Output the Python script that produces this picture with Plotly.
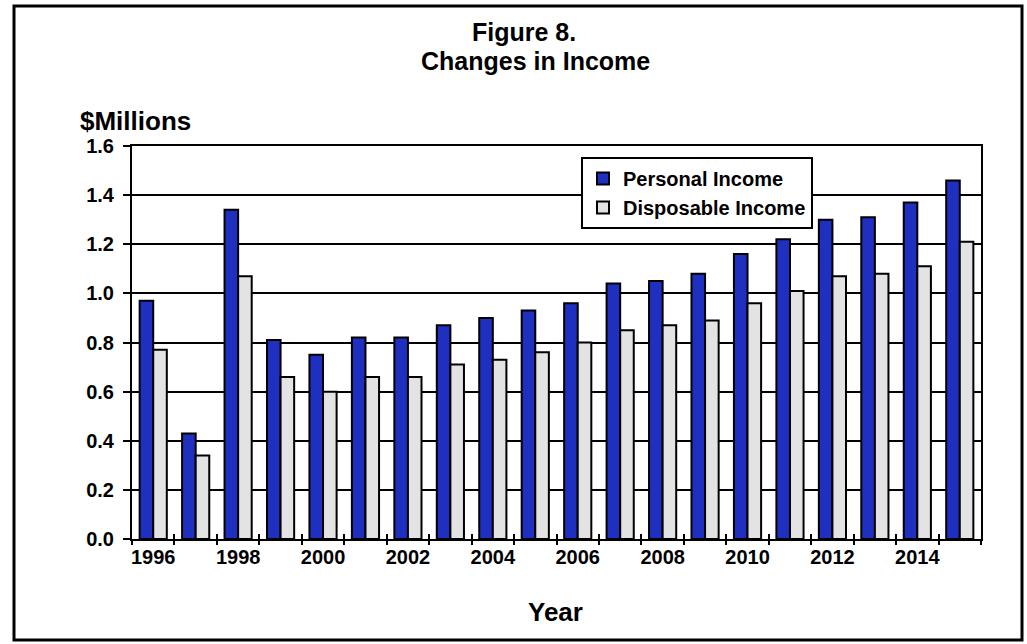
import plotly.graph_objects as go

years = list(range(1996, 2016))
personal_income = [0.97, 0.43, 1.34, 0.81, 0.75, 0.82, 0.82, 0.87, 0.90, 0.93,
                   0.96, 1.04, 1.05, 1.08, 1.16, 1.22, 1.30, 1.31, 1.37, 1.46]
disposable_income = [0.77, 0.34, 1.07, 0.66, 0.60, 0.66, 0.66, 0.71, 0.73, 0.76,
                     0.80, 0.85, 0.87, 0.89, 0.96, 1.01, 1.07, 1.08, 1.11, 1.21]
label_years = years[::2]
y_ticks = [0.0, 0.2, 0.4, 0.6, 0.8, 1.0, 1.2, 1.4, 1.6]

FONT = "Arial, Liberation Sans, sans-serif"
W, H = 1027, 644
L, R, T, B = 132, 46, 146, 105
pw, ph = W - L - R, H - T - B

def px2x(p):
    return (p - L) / pw

def px2y(p):
    return (H - B - p) / ph

fig = go.Figure()
fig.add_trace(go.Bar(x=years, y=personal_income, name="Personal Income",
                     marker=dict(color="#1f2fbf", line=dict(color="black", width=2))))
fig.add_trace(go.Bar(x=years, y=disposable_income, name="Disposable Income",
                     marker=dict(color="#e3e3e3", line=dict(color="black", width=2))))
# invisible carriers so the tick-only overlay axes get drawn
for ax in ("x2", "x3"):
    fig.add_trace(go.Scatter(x=years, y=personal_income, xaxis=ax, yaxis="y",
                             mode="none", showlegend=False, hoverinfo="skip"))

xr = [years[0] - 0.5, years[-1] + 0.5]
bounds = [y - 0.5 for y in years] + [years[-1] + 0.5]

fig.update_layout(
    width=W, height=H,
    margin=dict(l=L, r=R, t=T, b=B),
    paper_bgcolor="white", plot_bgcolor="white",
    barmode="group", bargap=0.36, bargroupgap=0.0,
    font=dict(family=FONT, color="black"),
    showlegend=True,
    legend=dict(x=px2x(581), y=px2y(157), xanchor="left", yanchor="top",
                bgcolor="white", bordercolor="black", borderwidth=2,
                font=dict(size=20, family=FONT, color="black", weight="bold"),
                tracegroupgap=0, itemwidth=30),
    xaxis=dict(range=xr, tickmode="array", tickvals=label_years,
               ticktext=[str(y) for y in label_years], ticks="",
               showline=True, linecolor="black", linewidth=2, mirror=True,
               showgrid=False, zeroline=False, ticklabelstandoff=-1,
               tickfont=dict(size=20, family=FONT, color="black", weight="bold")),
    xaxis2=dict(range=xr, overlaying="x", anchor="y", side="bottom",
                tickmode="array", tickvals=bounds, ticks="outside", ticklen=5,
                tickwidth=2, tickcolor="black", showticklabels=False,
                showgrid=False, zeroline=False, showline=False),
    xaxis3=dict(range=xr, overlaying="x", anchor="y", side="bottom",
                tickmode="array", tickvals=bounds, ticks="inside", ticklen=5,
                tickwidth=2, tickcolor="black", showticklabels=False,
                showgrid=False, zeroline=False, showline=False),
    yaxis=dict(range=[0, 1.6], tickmode="array", tickvals=y_ticks,
               ticktext=[f"{v:.1f}" for v in y_ticks],
               ticks="outside", ticklen=7, tickwidth=2, tickcolor="black",
               showline=True, linecolor="black", linewidth=2, mirror=True,
               showgrid=True, gridcolor="black", gridwidth=2, zeroline=False,
               ticklabelstandoff=5,
               tickfont=dict(size=20, family=FONT, color="black", weight="bold")),
    annotations=[
        dict(text="<b>Figure 8.</b>", x=px2x(524), y=px2y(32),
             xref="paper", yref="paper", showarrow=False, xanchor="center", yanchor="middle",
             font=dict(size=25, family=FONT, color="black")),
        dict(text="<b>Changes in Income</b>", x=px2x(535), y=px2y(61),
             xref="paper", yref="paper", showarrow=False, xanchor="center", yanchor="middle",
             font=dict(size=25, family=FONT, color="black")),
        dict(text="<b>$Millions</b>", x=px2x(78), y=px2y(121), xref="paper", yref="paper",
             showarrow=False, xanchor="left", yanchor="middle",
             font=dict(size=26, family=FONT, color="black")),
        dict(text="<b>Year</b>", x=px2x(555), y=px2y(612), xref="paper", yref="paper",
             showarrow=False, xanchor="center", yanchor="middle",
             font=dict(size=26, family=FONT, color="black")),
    ],
    shapes=[dict(type="rect", xref="paper", yref="paper",
                 x0=px2x(14), x1=px2x(1022), y0=px2y(640), y1=px2y(6),
                 line=dict(color="black", width=3), layer="below")],
)

fig.write_html("out.html")
